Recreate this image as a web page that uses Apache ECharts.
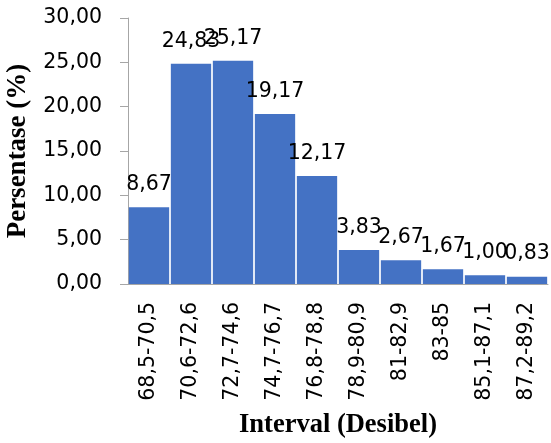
<!DOCTYPE html>
<html>
<head>
<meta charset="utf-8">
<script src="https://cdn.jsdelivr.net/npm/echarts@6/dist/echarts.min.js"></script>
<style>
  html, body { margin: 0; padding: 0; background: #fff; }
  #chart { width: 551px; height: 443px; }
</style>
</head>
<body>
<div id="chart"></div>
<script>
// Noise level intervals (dB) and share of measurements (%)
const intervals = ['68,5-70,5', '70,6-72,6', '72,7-74,6', '74,7-76,7', '76,8-78,8',
                   '78,9-80,9', '81-82,9', '83-85', '85,1-87,1', '87,2-89,2'];
const percentages = [8.67, 24.83, 25.17, 19.17, 12.17, 3.83, 2.67, 1.67, 1.00, 0.83];
const yTicks = [0, 5, 10, 15, 20, 25, 30];

const fmt = v => Number(v).toFixed(2).replace('.', ',');
const sans = '"DejaVu Sans"';
const serif = '"Liberation Serif"';
const axisGray = '#A6A6A6';

const chart = echarts.init(document.getElementById('chart'));
chart.setOption({
  animation: false,
  grid: { left: 128, right: 3, top: 18, bottom: 159, containLabel: false, outerBoundsMode: 'none' },
  xAxis: {
    type: 'category',
    data: intervals,
    name: 'Interval (Desibel)',
    nameLocation: 'middle',
    nameGap: 128,
    nameTextStyle: { fontFamily: serif, fontWeight: 'bold', fontSize: 26.5, color: '#000' },
    axisLine: { lineStyle: { color: axisGray, width: 1 } },
    axisTick: { show: false },
    axisLabel: { rotate: 90, margin: 18, fontFamily: sans, fontSize: 20.5, color: '#000' }
  },
  yAxis: {
    type: 'value',
    min: yTicks[0],
    max: yTicks[yTicks.length - 1],
    interval: yTicks[1] - yTicks[0],
    name: 'Persentase (%)',
    nameLocation: 'middle',
    nameGap: 96,
    nameTextStyle: { fontFamily: serif, fontWeight: 'bold', fontSize: 27, color: '#000' },
    axisLine: { show: true, lineStyle: { color: axisGray, width: 1 } },
    axisTick: { show: true, inside: false, length: 8, lineStyle: { color: axisGray } },
    splitLine: { show: false },
    axisLabel: { margin: 26, fontFamily: sans, fontSize: 20.5, color: '#000', formatter: fmt }
  },
  series: [{
    type: 'bar',
    data: percentages,
    barCategoryGap: '4%',
    itemStyle: { color: '#4472C4' },
    label: {
      show: true,
      position: 'top',
      distance: 12,
      fontFamily: sans,
      fontSize: 20.5,
      color: '#000',
      formatter: p => fmt(p.value)
    }
  }]
});
</script>
</body>
</html>
